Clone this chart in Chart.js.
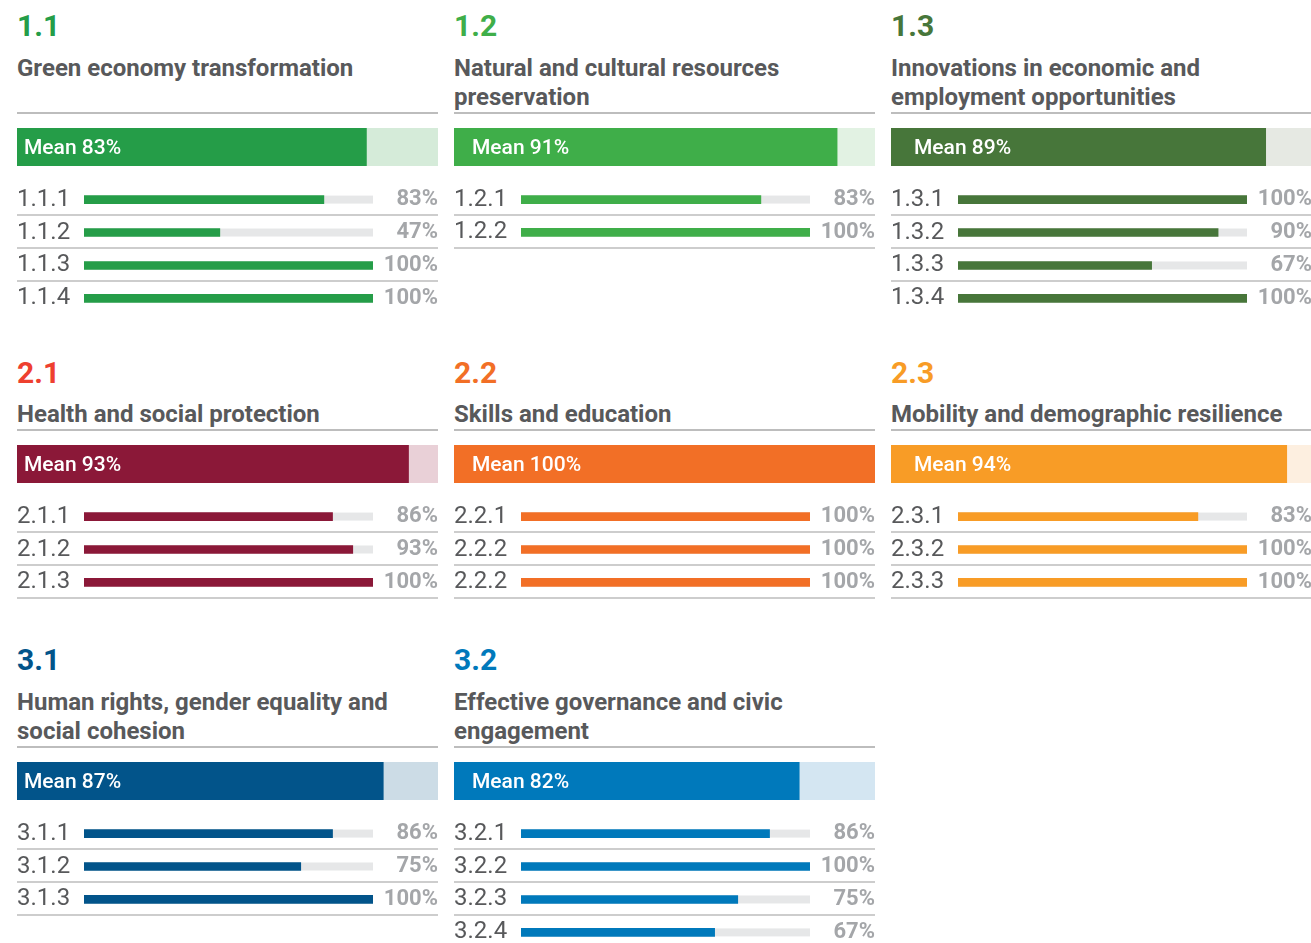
<!DOCTYPE html>
<html>
<head>
<meta charset="utf-8">
<title>Indicator scores</title>
<script src="https://cdn.jsdelivr.net/npm/chart.js@4.4.1/dist/chart.umd.min.js"></script>
<style>
    body { margin: 0; background: #ffffff; font-family: Roboto, 'Noto Sans', sans-serif; }
    #page { position: relative; width: 1311px; height: 943px; overflow: hidden; }
    .num { position: absolute; font-size: 30px; line-height: 30px; font-weight: 700; }
    .title { position: absolute; width: 430px; font-size: 24px; line-height: 29px; font-weight: 700; color: #58595b; white-space: pre-line; }
    .rule { position: absolute; width: 421px; height: 2px; background: #bdbdbd; }
    canvas { position: absolute; }
</style>
</head>
<body>
<div id="page"></div>
<script>
const panelIds = ['1.1', '1.2', '1.3', '2.1', '2.2', '2.3', '3.1', '3.2'];
const panelTitles = [
    'Green economy transformation',
    'Natural and cultural resources\npreservation',
    'Innovations in economic and\nemployment opportunities',
    'Health and social protection',
    'Skills and education',
    'Mobility and demographic resilience',
    'Human rights, gender equality and\nsocial cohesion',
    'Effective governance and civic\nengagement'
];
const meanValues = [83, 91, 89, 93, 100, 94, 87, 82];
const itemCodes = [
    ['1.1.1', '1.1.2', '1.1.3', '1.1.4'],
    ['1.2.1', '1.2.2'],
    ['1.3.1', '1.3.2', '1.3.3', '1.3.4'],
    ['2.1.1', '2.1.2', '2.1.3'],
    ['2.2.1', '2.2.2', '2.2.2'],
    ['2.3.1', '2.3.2', '2.3.3'],
    ['3.1.1', '3.1.2', '3.1.3'],
    ['3.2.1', '3.2.2', '3.2.3', '3.2.4']
];
const itemValues = [
    [83, 47, 100, 100],
    [83, 100],
    [100, 90, 67, 100],
    [86, 93, 100],
    [100, 100, 100],
    [83, 100, 100],
    [86, 75, 100],
    [86, 100, 75, 67]
];
const SCALE_MAX = 100;

// styling
const barColors = ['#259d48', '#3fae49', '#47763a', '#8b1838', '#f26f26', '#f89c26', '#02548a', '#0079bb'];
const numberColors = ['#259d48', '#3fae49', '#47763a', '#ee402f', '#f26f26', '#f89c26', '#02548a', '#0079bb'];
const trackColors = ['#d5ebd9', '#e2f2e3', '#e6e9e3', '#e9d0d7', '#fce2d4', '#fdefe0', '#ccdce6', '#d4e6f2'];
const itemTrack = '#e6e7e8';
const ruleColor = '#bdbdbd';

const colX = [17, 454, 891];
const colWidth = 421;
const meanTextPad = [7, 18, 23];
const rowTops = [
    { num: 11, title: 54, rule: 112, mean: 128 },
    { num: 358, title: 400, rule: 429, mean: 445 },
    { num: 645, title: 688, rule: 746, mean: 762 }
];
const MEAN_H = 38;
const ROW_H = 33;
const LABEL_W = 67;
const PCT_W = 65;

Chart.defaults.font.family = 'Roboto';

const page = document.getElementById('page');

const trackPlugin = {
    id: 'track',
    beforeDatasetsDraw(chart, args, opts) {
        const ctx = chart.ctx;
        const x = chart.scales.x;
        const x0 = x.getPixelForValue(0);
        const x1 = x.getPixelForValue(SCALE_MAX);
        ctx.save();
        ctx.fillStyle = opts.color;
        chart.getDatasetMeta(0).data.forEach(bar => {
            ctx.fillRect(x0, bar.y - bar.height / 2, x1 - x0, bar.height);
        });
        ctx.restore();
    }
};

const rulesPlugin = {
    id: 'rules',
    afterDraw(chart) {
        const ctx = chart.ctx;
        const y = chart.scales.y;
        ctx.save();
        ctx.strokeStyle = ruleColor;
        ctx.lineWidth = 1.5;
        y.ticks.forEach((t, i) => {
            if (i > 2) return;
            const py = y.getPixelForTick(i) + ROW_H / 2 - 1;
            ctx.beginPath();
            ctx.moveTo(0, py);
            ctx.lineTo(chart.width, py);
            ctx.stroke();
        });
        ctx.restore();
    }
};

const meanLabelPlugin = {
    id: 'meanLabel',
    afterDatasetsDraw(chart, args, opts) {
        const ctx = chart.ctx;
        const area = chart.chartArea;
        ctx.save();
        ctx.fillStyle = '#ffffff';
        ctx.font = '500 21px Roboto';
        ctx.textBaseline = 'middle';
        ctx.fillText(opts.text, opts.pad, (area.top + area.bottom) / 2 + 2);
        ctx.restore();
    }
};

function addEl(cls, left, top, text) {
    const el = document.createElement('div');
    el.className = cls;
    el.style.left = left + 'px';
    el.style.top = top + 'px';
    if (text !== undefined) el.textContent = text;
    page.appendChild(el);
    return el;
}

function addCanvas(left, top, w, h) {
    const c = document.createElement('canvas');
    c.width = w;
    c.height = h;
    c.style.left = left + 'px';
    c.style.top = top + 'px';
    page.appendChild(c);
    return c;
}

function renderMean(i, left, top, col) {
    const canvas = addCanvas(left, top, colWidth, MEAN_H);
    new Chart(canvas, {
        type: 'bar',
        data: {
            labels: ['Mean'],
            datasets: [{
                data: [meanValues[i]],
                backgroundColor: barColors[i],
                barPercentage: 1,
                categoryPercentage: 1
            }]
        },
        options: {
            indexAxis: 'y',
            responsive: false,
            animation: false,
            layout: { padding: 0 },
            scales: {
                x: { display: false, min: 0, max: SCALE_MAX },
                y: { display: false }
            },
            plugins: {
                legend: { display: false },
                tooltip: { enabled: false },
                track: { color: trackColors[i] },
                meanLabel: { text: `Mean ${meanValues[i]}%`, pad: meanTextPad[col] }
            }
        },
        plugins: [trackPlugin, meanLabelPlugin]
    });
}

function renderItems(i, left, top) {
    const codes = itemCodes[i];
    const values = itemValues[i];
    const pctLabels = values.map(v => `${v}%`);
    const canvas = addCanvas(left, top, colWidth, ROW_H * codes.length);
    new Chart(canvas, {
        type: 'bar',
        data: {
            labels: codes,
            datasets: [{
                data: values,
                backgroundColor: barColors[i],
                barThickness: 8
            }]
        },
        options: {
            indexAxis: 'y',
            responsive: false,
            animation: false,
            layout: { padding: 0 },
            scales: {
                x: { display: false, min: 0, max: SCALE_MAX },
                y: {
                    position: 'left',
                    grid: { display: false },
                    border: { display: false },
                    ticks: {
                        color: '#58595b',
                        // tiny lineHeight keeps the scale from reserving label padding
                        font: { size: 24, weight: '400', lineHeight: 0.01 },
                        crossAlign: 'far',
                        padding: 0,
                        autoSkip: false
                    },
                    afterFit(scale) { scale.width = LABEL_W; }
                },
                y2: {
                    type: 'category',
                    position: 'right',
                    labels: pctLabels,
                    offset: true,
                    grid: { display: false },
                    border: { display: false },
                    ticks: {
                        color: '#a4a6a9',
                        font: { size: 22, weight: '700', lineHeight: 0.01 },
                        crossAlign: 'far',
                        padding: 0,
                        autoSkip: false
                    },
                    afterFit(scale) { scale.width = PCT_W; }
                }
            },
            plugins: {
                legend: { display: false },
                tooltip: { enabled: false },
                track: { color: itemTrack }
            }
        },
        plugins: [trackPlugin, rulesPlugin]
    });
}

panelIds.forEach((id, i) => {
    const row = Math.floor(i / 3);
    const col = i % 3;
    const left = colX[col];
    const tops = rowTops[row];

    const num = addEl('num', left, tops.num, id);
    num.style.color = numberColors[i];
    addEl('title', left, tops.title, panelTitles[i]);
    addEl('rule', left, tops.rule);

    renderMean(i, left, tops.mean, col);
    renderItems(i, left, tops.mean + MEAN_H + 17);
});
</script>
</body>
</html>
